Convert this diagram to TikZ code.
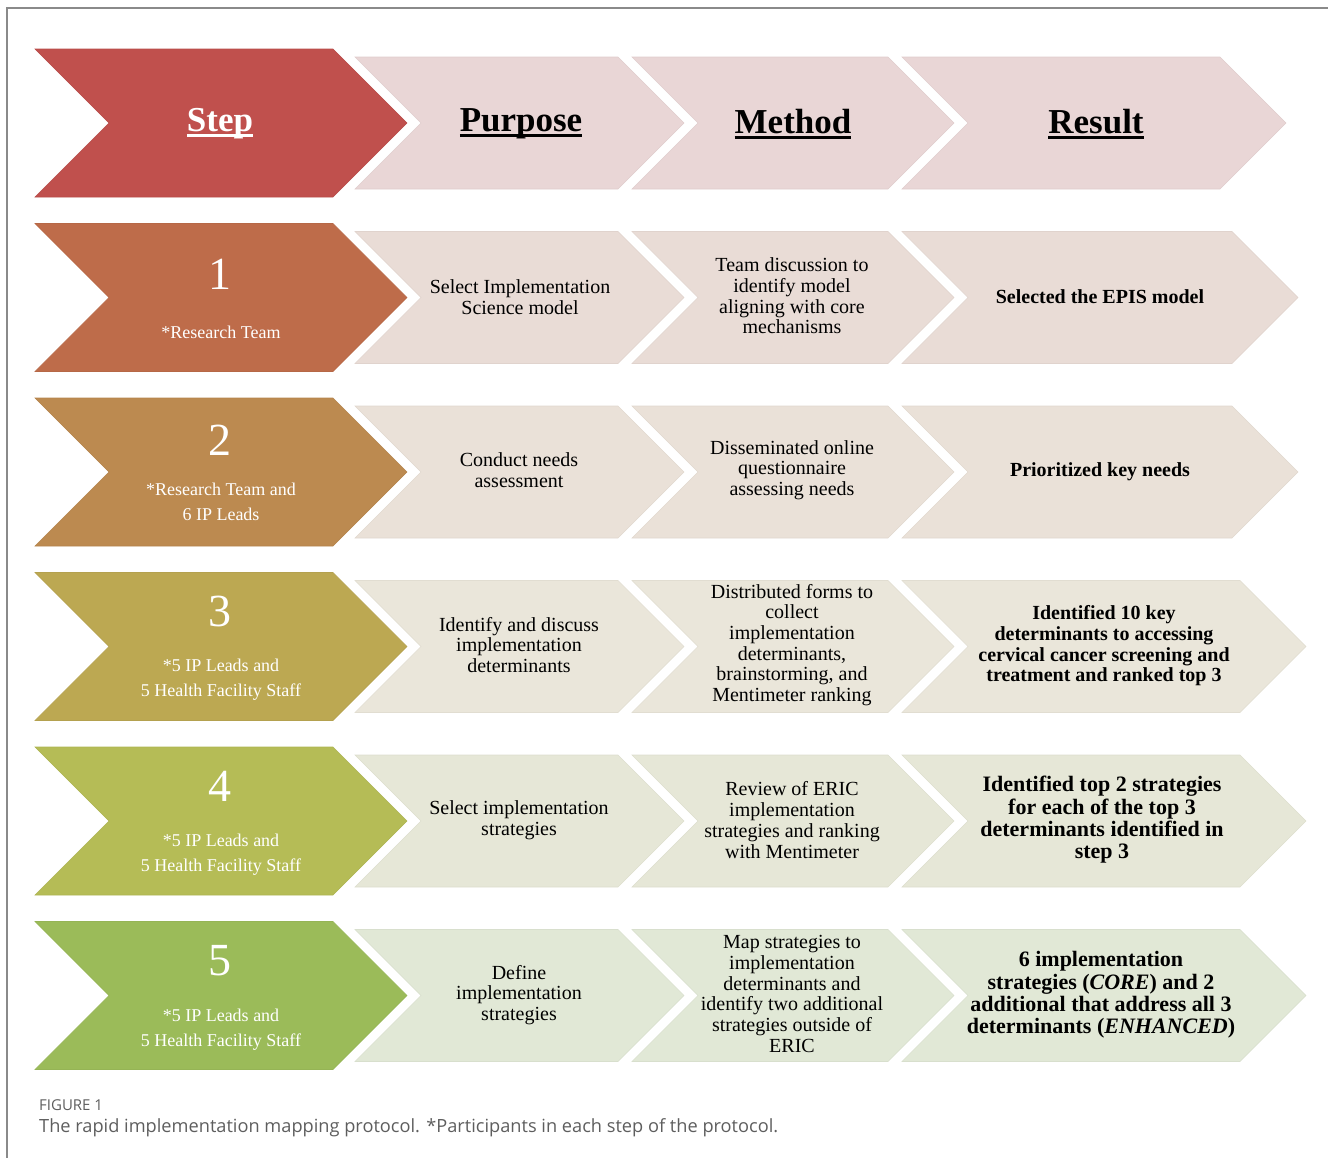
\documentclass[tikz,border=0pt]{standalone}
\usepackage{fontspec}
\setmainfont{Liberation Serif}
\newfontfamily\capfont{Open Sans}

% fills of the step column and the light panels, row by row
\definecolor{framegray}{HTML}{8A8A8A}
\definecolor{capgray}{HTML}{5E5E5E}
\definecolor{stepH}{HTML}{C0504D}
\definecolor{lightH}{HTML}{E9D6D6}
\definecolor{stepA}{HTML}{BE6C4A}
\definecolor{lightA}{HTML}{E9DCD6}
\definecolor{stepB}{HTML}{BC8A50}
\definecolor{lightB}{HTML}{EAE1D8}
\definecolor{stepC}{HTML}{BCA852}
\definecolor{lightC}{HTML}{EAE6DA}
\definecolor{stepD}{HTML}{B5BC56}
\definecolor{lightD}{HTML}{E6E7D7}
\definecolor{stepE}{HTML}{9BBB59}
\definecolor{lightE}{HTML}{E1E8D6}

% chevron: fill, left x, top-right x, centre y, half height
\newcommand\chevron[5]{%
  \path[fill=#1,draw=#1!96!black,line width=0.6pt]
    (#2,#4-#5) -- (#3,#4-#5) -- (#3+#5,#4) -- (#3,#4+#5)
    -- (#2,#4+#5) -- (#2+#5,#4) -- cycle;}

% heading underline crossing the descenders
\newcommand\hdline[1]{\setbox0\hbox{#1}\rlap{\rule[-5pt]{\wd0}{2.4pt}}\box0}

\tikzset{
  cell/.style={align=center,inner sep=0pt,font=\fontsize{20}{20.7}\selectfont},
  result/.style={cell,font=\fontsize{20}{20.7}\selectfont\bfseries},
  resultwide/.style={cell,font=\fontsize{22}{22.3}\selectfont\bfseries},
  heading/.style={inner sep=0pt,font=\fontsize{35}{36}\selectfont\bfseries},
  stepnum/.style={inner sep=0pt,text=white,font=\fontsize{46}{46}\selectfont},
  who/.style={align=center,inner sep=0pt,text=white,font=\fontsize{18}{25}\selectfont},
}

\begin{document}
\begin{tikzpicture}[x=1pt,y=-1pt]
\useasboundingbox (0,0) rectangle (1328,1157);

% outer frame
\draw[line width=1.8pt,framegray] (1340,8) -- (7,8) -- (7,1170);

% header row
\chevron{stepH}{35}{333}{123}{74}
\chevron{lightH}{355}{618}{123}{66}
\chevron{lightH}{632}{888}{123}{66}
\chevron{lightH}{902}{1220}{123}{66}
\node[heading,text=white] (hstep) at (220,124) {\hdline{Step}};
\node[heading] (hpurpose) at (521,124) {\hdline{Purpose}};
\node[heading] (hmethod) at (793,124) {\hdline{Method}};
\node[heading] (hresult) at (1096,124) {\hdline{Result}};

% step 1
\chevron{stepA}{35}{333}{297.5}{74}
\chevron{lightA}{355}{618}{297.5}{66}
\chevron{lightA}{632}{888}{297.5}{66}
\chevron{lightA}{902}{1232}{297.5}{66}
\node[stepnum] (n1) at (220,274) {1};
\node[who] (w1) at (221,332) {*Research Team};
\node[cell] (p1) at (520,297) {Select Implementation\\Science model};
\node[cell] (m1) at (792,296) {Team discussion to\\identify model\\aligning with core\\mechanisms};
\node[result] (r1) at (1100,297) {Selected the EPIS model};

% step 2
\chevron{stepB}{35}{333}{472}{74}
\chevron{lightB}{355}{618}{472}{66}
\chevron{lightB}{632}{888}{472}{66}
\chevron{lightB}{902}{1232}{472}{66}
\node[stepnum] (n2) at (220,440) {2};
\node[who] (w2) at (221,502) {*Research Team and\\6 IP Leads};
\node[cell] (p2) at (519,470) {Conduct needs\\assessment};
\node[cell] (m2) at (792,470) {Disseminated online\\questionnaire\\assessing needs};
\node[result] (r2) at (1100,472) {Prioritized key needs};

% step 3
\chevron{stepC}{35}{333}{646.5}{74}
\chevron{lightC}{355}{618}{646.5}{66}
\chevron{lightC}{632}{888}{646.5}{66}
\chevron{lightC}{902}{1240}{646.5}{66}
\node[stepnum] (n3) at (220,611) {3};
\node[who] (w3) at (221,680) {*5 IP Leads and\\5 Health Facility Staff};
\node[cell] (p3) at (519,645) {Identify and discuss\\implementation\\determinants};
\node[cell] (m3) at (792,645) {Distributed forms to\\collect\\implementation\\determinants,\\brainstorming, and\\Mentimeter ranking};
\node[result] (r3) at (1104,646) {Identified 10 key\\determinants to accessing\\cervical cancer screening and\\treatment and ranked top 3};

% step 4
\chevron{stepD}{35}{333}{821}{74}
\chevron{lightD}{355}{618}{821}{66}
\chevron{lightD}{632}{888}{821}{66}
\chevron{lightD}{902}{1240}{821}{66}
\node[stepnum] (n4) at (220,786) {4};
\node[who] (w4) at (221,855) {*5 IP Leads and\\5 Health Facility Staff};
\node[cell] (p4) at (519,820) {Select implementation\\strategies};
\node[cell] (m4) at (792,820) {Review of ERIC\\implementation\\strategies and ranking\\with Mentimeter};
\node[resultwide] (r4) at (1102,820) {Identified top 2 strategies\\for each of the top 3\\determinants identified in\\step 3};

% step 5
\chevron{stepE}{35}{333}{995.5}{74}
\chevron{lightE}{355}{618}{995.5}{66}
\chevron{lightE}{632}{888}{995.5}{66}
\chevron{lightE}{902}{1240}{995.5}{66}
\node[stepnum] (n5) at (220,961) {5};
\node[who] (w5) at (221,1030) {*5 IP Leads and\\5 Health Facility Staff};
\node[cell] (p5) at (519,995) {Define\\implementation\\strategies};
\node[cell] (m5) at (792,994) {Map strategies to\\implementation\\determinants and\\identify two additional\\strategies outside of\\ERIC};
\node[resultwide] (r5) at (1101,995) {6 implementation\\strategies (\textit{CORE}) and 2\\additional that address all 3\\determinants (\textit{ENHANCED})};

% caption
\node[anchor=west,inner sep=0pt,text=capgray,font=\capfont\fontsize{15}{15}\selectfont] (figlabel) at (39,1105) {FIGURE 1};
\node[anchor=west,inner sep=0pt,text=capgray,font=\capfont\fontsize{18.2}{18.2}\selectfont] (figcaption) at (39,1128) {The rapid implementation mapping protocol. *Participants in each step of the protocol.};
\end{tikzpicture}
\end{document}
